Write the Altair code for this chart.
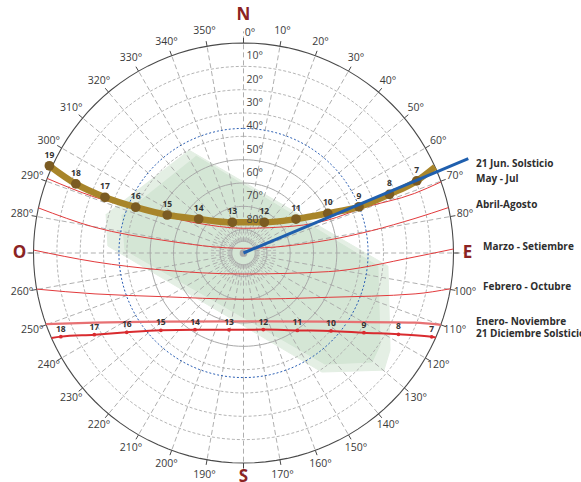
import altair as alt
import pandas as pd

DIAM = 420  # horizon circle diameter in px (plot area)
PAD_L, PAD_T = 33.5, 43

# ---------------- sun path data: azimuth (deg, clockwise from N), altitude (deg) ----------------
jun_hours = [19, 18, 17, 16, 15, 14, 13, 12, 11, 10, 9, 8, 7]
jun_az = [294.2, 292.4, 291.9, 293.0, 296.5, 307.2, 340.0, 34.1, 57.1, 64.8, 68.2, 68.1, 67.4]
jun_alt = [-1.2, 12.3, 26.0, 39.8, 53.5, 65.9, 76.0, 74.1, 63.2, 50.1, 36.7, 22.6, 9.6]
jun_rise_az = 65.8

dic_hours = [18, 17, 16, 15, 14, 13, 12, 11, 10, 9, 8, 7]
dic_az = [245.4, 241.3, 235.8, 226.9, 212.3, 190.7, 165.5, 145.2, 131.7, 123.5, 117.7, 114.0]
dic_alt = [3.9, 17.1, 29.5, 41.5, 51.1, 56.5, 56.1, 49.6, 39.8, 28.1, 15.0, 1.7]
dic_set_az = 246.1
dic_rise_az = 113.7

may_jul_az = [290.8, 290.6, 292.7, 302.0, 0.0, 62.3, 68.7, 69.3, 70.8, 70.2]
may_jul_alt = [0, 22.0, 41.1, 65.5, 79.4, 65.1, 51.0, 35.8, 12.4, 0]

abr_ago_az = [282.4, 279.8, 279.0, 0.0, 81.3, 78.6, 77.5]
abr_ago_alt = [0, 25.4, 54.5, 88.0, 53.2, 15.0, 0]

mar_set_az = [270.8, 266.6, 258.3, 180.0, 102.4, 91.3, 88.9]
mar_set_alt = [0, 26.2, 54.2, 81.0, 52.8, 16.5, 0]

feb_oct_az = [260.1, 254.6, 241.9, 180.0, 117.6, 103.4, 99.8]
feb_oct_alt = [0, 24.0, 50.3, 70.2, 49.0, 14.4, 0]

ene_nov_az = [250.2, 244.9, 230.0, 180.0, 129.0, 112.1, 110.0]
ene_nov_alt = [0, 19.7, 44.2, 60.7, 43.2, 10.7, 0]

# sunrise bearing on the June solstice
blue_az = 67.2
blue_reach_alt = -14.5

# site footprint (east / north offsets, in zenith-degree units of the diagram)
site_outer_e = [-23.4, 61.9, 62.8, 60.2, 33.6, -58.1, -58.9]
site_outer_n = [44.1, -5.6, -41.6, -50.2, -51.0, 3.0, 16.7]
site_inner_e = [-20.4, 57.6, 58.5, 55.1, 34.9, -50.8, -52.1]
site_inner_n = [41.6, -5.6, -39.4, -46.7, -47.6, 1.3, 16.3]

# grid
ring_alts = [10, 20, 30, 40, 50, 60, 70, 80]
highlight_ring_alt = 36.6
az_ticks = list(range(0, 360, 10))
cardinals = ["N", "E", "S", "O"]
cardinal_az = [0, 90, 180, 270]

series_labels = ["21 Jun. Solsticio", "May - Jul", "Abril-Agosto", "Marzo - Setiembre",
                 "Febrero - Octubre", "Enero- Noviembre", "21 Diciembre Solsticio"]

FONT = "Open Sans"

# ---------------- tables ----------------
def series(name, az, al):
    return pd.DataFrame({"name": name, "az": az, "alt": al, "i": range(len(az))})


def circles(alts):
    """Constant-altitude circles traced every 3 degrees of azimuth."""
    rows = [{"ring": a, "alt": a, "az": t, "i": k}
            for a in alts for k, t in enumerate(range(0, 363, 3))]
    return pd.DataFrame(rows)


jun_path = series("jun", jun_az + [jun_rise_az], jun_alt + [0])
jun_pts = pd.DataFrame({"az": jun_az, "alt": jun_alt, "hour": [str(h) for h in jun_hours]})
dic_path = series("dic", [dic_set_az] + dic_az + [dic_rise_az], [0] + dic_alt + [0])
dic_pts = pd.DataFrame({"az": dic_az, "alt": dic_alt, "hour": [str(h) for h in dic_hours]})

red_df = pd.concat([
    series("may_jul", may_jul_az, may_jul_alt),
    series("abr_ago", abr_ago_az, abr_ago_alt),
    series("mar_set", mar_set_az, mar_set_alt),
    series("feb_oct", feb_oct_az, feb_oct_alt),
])
ene_df = series("ene_nov", ene_nov_az, ene_nov_alt)

label_df = pd.DataFrame({
    "label": series_labels,
    "az": [jun_rise_az, may_jul_az[-1], abr_ago_az[-1], mar_set_az[-1], feb_oct_az[-1],
           ene_nov_az[-1], dic_rise_az],
    "alt": [0, may_jul_alt[-1], abr_ago_alt[-1], mar_set_alt[-1], feb_oct_alt[-1],
            ene_nov_alt[-1], 0],
})

site_outer = pd.DataFrame({"px": site_outer_e, "py": site_outer_n, "i": range(len(site_outer_e))})
site_inner = pd.DataFrame({"px": site_inner_e, "py": site_inner_n, "i": range(len(site_inner_e))})

rings_dashed = circles([a for a in ring_alts if a <= 40])
rings_solid = circles([a for a in ring_alts if a > 40] + [85])
horizon_df = circles([0])
blue_ring_df = circles([highlight_ring_alt])
ring_labels = pd.DataFrame({"az": 0, "alt": ring_alts, "t": [f"{a}°" for a in ring_alts]})

radials = pd.DataFrame({"az": az_ticks})
radials["alt"] = 85
radials["alt2"] = [-5 if a % 90 == 0 else 0 for a in az_ticks]
inner_radials = pd.DataFrame({"az": [a + 5 for a in az_ticks], "alt": 85, "alt2": 76})
outer_ticks = pd.DataFrame({"az": az_ticks, "alt": 0, "alt2": -2.2})
az_labels = pd.DataFrame({"az": [a for a in az_ticks if a % 90 != 0 or a == 0]})
az_labels["t"] = [f"{a}°" for a in az_labels["az"]]
card_df = pd.DataFrame({"az": cardinal_az, "t": cardinals})

blue_df = pd.DataFrame({"az": [blue_az, blue_az], "alt": [90, blue_reach_alt], "i": [0, 1]})

# ---------------- helpers ----------------
XS = alt.Scale(domain=[-90, 90], nice=False, zero=False)
YS = alt.Scale(domain=[-90, 90], nice=False, zero=False)
PX = "(90 - datum.alt) * sin(datum.az * PI / 180)"
PY = "(90 - datum.alt) * cos(datum.az * PI / 180)"
PX2 = "(90 - datum.alt2) * sin(datum.az * PI / 180)"
PY2 = "(90 - datum.alt2) * cos(datum.az * PI / 180)"


def xy():
    return dict(x=alt.X("px:Q", scale=XS, axis=None), y=alt.Y("py:Q", scale=YS, axis=None))


def projected(df):
    return alt.Chart(df).transform_calculate(px=PX, py=PY)


def rules(df, **mark):
    return (alt.Chart(df)
            .transform_calculate(px=PX, py=PY, px2=PX2, py2=PY2)
            .mark_rule(**mark)
            .encode(**xy(), x2="px2:Q", y2="py2:Q"))


def ring_lines(df, **mark):
    return projected(df).mark_line(**mark).encode(**xy(), detail="ring:N", order="i:Q")


# ---------------- layers ----------------
site_o = alt.Chart(site_outer).mark_line(fill="#e4efe4", stroke="#e4efe4", strokeWidth=1).encode(
    **xy(), order="i:Q")
site_i = alt.Chart(site_inner).mark_line(fill="#d4e6d5", stroke="#d4e6d5", strokeWidth=1).encode(
    **xy(), order="i:Q")

grid_dashed = ring_lines(rings_dashed, color="#ababab", strokeWidth=0.9, strokeDash=[3, 2])
grid_solid = ring_lines(rings_solid, color="#a9a9a9", strokeWidth=1)
horizon = ring_lines(horizon_df, color="#4a4a4a", strokeWidth=1.1)
blue_ring = ring_lines(blue_ring_df, color="#2b5fb4", strokeWidth=1, strokeDash=[2, 2])

radial_lines = rules(radials, color="#a6a6a6", strokeWidth=0.9, strokeDash=[5, 3])
inner_lines = rules(inner_radials, color="#b0b0b0", strokeWidth=0.8, strokeDash=[4, 2])
tick_lines = rules(outer_ticks, color="#4a4a4a", strokeWidth=1)

center_dot = alt.Chart(pd.DataFrame({"px": [0], "py": [0]})).mark_circle(
    size=60, color="#a9a9a9", opacity=1).encode(**xy())

red_lines = projected(red_df).mark_line(color="#e23a3c", strokeWidth=1, interpolate="monotone").encode(
    **xy(), detail="name:N", order="i:Q")
ene_line = projected(ene_df).mark_line(color="#e77173", strokeWidth=2.2, interpolate="monotone").encode(
    **xy(), order="i:Q")
dic_line = projected(dic_path).mark_line(color="#d92b2f", strokeWidth=2, interpolate="monotone").encode(
    **xy(), order="i:Q")
dic_dots = projected(dic_pts).mark_circle(size=14, color="#d92b2f", opacity=1).encode(**xy())
dic_text = projected(dic_pts).mark_text(font=FONT, fontSize=8.5, fontWeight="bold", color="#333333",
                                        dy=-8).encode(**xy(), text="hour:N")

jun_line = projected(jun_path).mark_line(color="#a8852a", strokeWidth=6.5, interpolate="monotone").encode(
    **xy(), order="i:Q")
jun_dots = projected(jun_pts).mark_circle(size=95, color="#7b5b22", opacity=1).encode(**xy())
jun_text = projected(jun_pts).mark_text(font=FONT, fontSize=8.5, fontWeight="bold", color="#333333",
                                        dy=-11).encode(**xy(), text="hour:N")

blue_line = projected(blue_df).mark_line(color="#1f5fae", strokeWidth=3).encode(**xy(), order="i:Q")

ring_text = projected(ring_labels).mark_text(font=FONT, fontSize=10.5, color="#444444", align="left",
                                             dx=3, dy=-10).encode(**xy(), text="t:N")

az_text = (alt.Chart(az_labels)
           .transform_calculate(alt="datum.az == 0 ? -4.3 : -6.4",
                                az="datum.az == 0 ? 1.7 : datum.az")
           .transform_calculate(px=PX, py=PY)
           .mark_text(font=FONT, fontSize=10.5, color="#3a3a3a")
           .encode(**xy(), text="t:N"))

card_text = (alt.Chart(card_df)
             .transform_calculate(alt="datum.az == 0 ? -12 : -6")
             .transform_calculate(px=PX, py=PY)
             .mark_text(font=FONT, fontSize=17, fontWeight="bold", color="#8b2323")
             .encode(**xy(), text="t:N"))

SHIFTED = ["Marzo - Setiembre", "Febrero - Octubre"]
lab_a = (projected(label_df)
         .transform_filter(alt.FieldOneOfPredicate(field="label", oneOf=SHIFTED))
         .mark_text(font=FONT, fontSize=10, fontWeight="bold", color="#2e2e2e", align="left", dy=-2)
         .encode(x=alt.value(483 - PAD_L), y=alt.Y("py:Q", scale=YS, axis=None), text="label:N"))
lab_b = (projected(label_df)
         .transform_filter(~alt.FieldOneOfPredicate(field="label", oneOf=SHIFTED))
         .mark_text(font=FONT, fontSize=10, fontWeight="bold", color="#2e2e2e", align="left", dy=-3)
         .encode(x=alt.value(476 - PAD_L), y=alt.Y("py:Q", scale=YS, axis=None), text="label:N"))

chart = alt.layer(
    site_o, site_i,
    grid_dashed, grid_solid, radial_lines, inner_lines, center_dot,
    horizon, tick_lines, blue_ring,
    red_lines, ene_line, dic_line, dic_dots, dic_text,
    jun_line, jun_dots, jun_text, blue_line,
    ring_text, az_text, card_text, lab_a, lab_b,
).properties(
    width=DIAM, height=DIAM,
    autosize=alt.AutoSizeParams(type="none"),
    padding={"left": PAD_L, "top": PAD_T, "right": 581 - PAD_L - DIAM, "bottom": 482 - PAD_T - DIAM},
    background="white",
).configure_view(stroke=None)

chart.save("out.html", embed_options={"renderer": "svg", "actions": False})
